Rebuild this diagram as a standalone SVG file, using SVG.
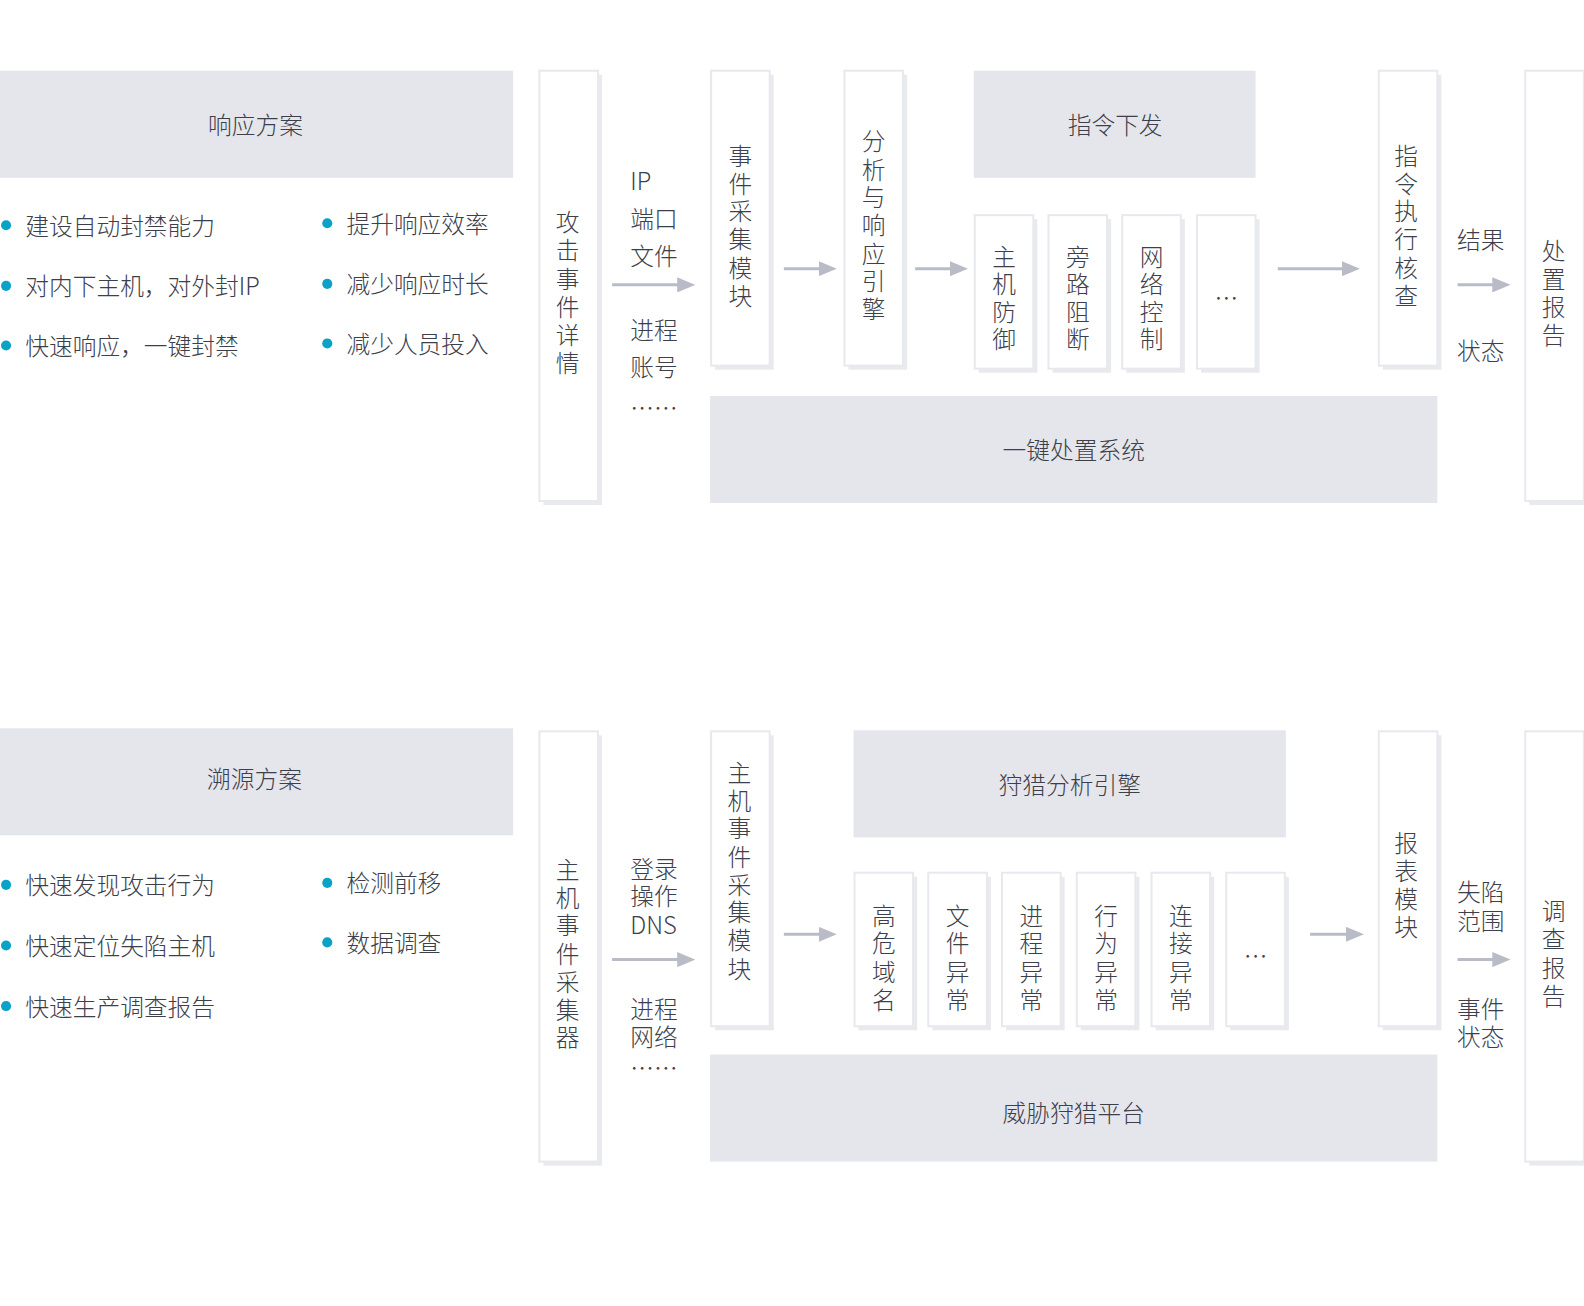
<svg xmlns="http://www.w3.org/2000/svg" width="1584" height="1306" viewBox="0 0 1584 1306">
<style>
text{font-family:"Noto Sans CJK SC","Noto Sans",sans-serif;font-size:23.5px;font-weight:300;fill:#3d404a;dominant-baseline:central}
.c{text-anchor:middle}
.hd{fill:#e5e6eb}
.bx{fill:#fff;stroke:#e8e9ee;stroke-width:2}
.sh{fill:#e9eaee}
.dot{fill:#0aa3c7}
.ar{stroke:#b9bcc7;stroke-width:3;fill:none;marker-end:url(#m)}
</style>
<defs>
<marker id="m" viewBox="0 0 10 10" refX="2" refY="5" markerWidth="6" markerHeight="5" markerUnits="strokeWidth" orient="auto" preserveAspectRatio="none"><path d="M0 0L10 5L0 10z" fill="#b9bcc7"/></marker>
</defs>
<rect width="1584" height="1306" fill="#fff"/>
<g transform="scale(1.0101)">
<g id="sec1">
<g id="h1"><rect x="0" y="70" width="508" height="106" class="hd"/><text x="253" y="122" class="c">响应方案</text></g>
<g id="b1">
<circle cx="6" cy="223" r="5" class="dot"/><text x="25" y="222">建设自动封禁能力</text>
<circle cx="6" cy="283" r="5" class="dot"/><text x="25" y="282">对内下主机，对外封IP</text>
<circle cx="6" cy="342" r="5" class="dot"/><text x="25" y="341">快速响应，一键封禁</text>
<circle cx="324" cy="221" r="5" class="dot"/><text x="343" y="220">提升响应效率</text>
<circle cx="324" cy="281" r="5" class="dot"/><text x="343" y="280">减少响应时长</text>
<circle cx="324" cy="340" r="5" class="dot"/><text x="343" y="339">减少人员投入</text>
</g>
<g id="n1"><rect x="538" y="74" width="58" height="426" class="sh"/><rect x="534" y="70" width="58" height="426" class="bx"/>
<text class="c" x="562"><tspan x="562" y="218">攻</tspan><tspan x="562" y="246">击</tspan><tspan x="562" y="274">事</tspan><tspan x="562" y="302">件</tspan><tspan x="562" y="330">详</tspan><tspan x="562" y="357">情</tspan></text></g>
<g id="l1"><text x="624" y="178">IP</text><text x="624" y="215">端口</text><text x="624" y="252">文件</text><text x="624" y="325">进程</text><text x="624" y="362">账号</text><text x="624" y="402">……</text></g>
<g id="n2"><rect x="708" y="74" width="58" height="292" class="sh"/><rect x="704" y="70" width="58" height="292" class="bx"/>
<text class="c"><tspan x="733" y="152">事</tspan><tspan x="733" y="180">件</tspan><tspan x="733" y="207">采</tspan><tspan x="733" y="235">集</tspan><tspan x="733" y="263">模</tspan><tspan x="733" y="291">块</tspan></text></g>
<g id="n3"><rect x="840" y="74" width="58" height="292" class="sh"/><rect x="836" y="70" width="58" height="292" class="bx"/>
<text class="c"><tspan x="865" y="138">分</tspan><tspan x="865" y="166">析</tspan><tspan x="865" y="193">与</tspan><tspan x="865" y="221">响</tspan><tspan x="865" y="249">应</tspan><tspan x="865" y="276">引</tspan><tspan x="865" y="304">擎</tspan></text></g>
<g id="h2"><rect x="964" y="70" width="279" height="106" class="hd"/><text x="1104" y="122" class="c">指令下发</text></g>
<g id="s1"><rect x="969" y="217" width="58" height="152" class="sh"/><rect x="965" y="213" width="58" height="152" class="bx"/><text class="c"><tspan x="994" y="252">主</tspan><tspan x="994" y="279">机</tspan><tspan x="994" y="307">防</tspan><tspan x="994" y="334">御</tspan></text></g>
<g id="s2"><rect x="1042" y="217" width="58" height="152" class="sh"/><rect x="1038" y="213" width="58" height="152" class="bx"/><text class="c"><tspan x="1067" y="252">旁</tspan><tspan x="1067" y="279">路</tspan><tspan x="1067" y="307">阻</tspan><tspan x="1067" y="334">断</tspan></text></g>
<g id="s3"><rect x="1115" y="217" width="58" height="152" class="sh"/><rect x="1111" y="213" width="58" height="152" class="bx"/><text class="c"><tspan x="1140" y="252">网</tspan><tspan x="1140" y="279">络</tspan><tspan x="1140" y="307">控</tspan><tspan x="1140" y="334">制</tspan></text></g>
<g id="s4"><rect x="1189" y="217" width="58" height="152" class="sh"/><rect x="1185" y="213" width="58" height="152" class="bx"/><text class="c" x="1214" y="294">…</text></g>
<g id="n4"><rect x="1369" y="74" width="58" height="292" class="sh"/><rect x="1365" y="70" width="58" height="292" class="bx"/>
<text class="c"><tspan x="1392" y="152">指</tspan><tspan x="1392" y="180">令</tspan><tspan x="1392" y="207">执</tspan><tspan x="1392" y="235">行</tspan><tspan x="1392" y="263">核</tspan><tspan x="1392" y="291">查</tspan></text></g>
<g id="l2"><text class="c" x="1466" y="236">结果</text><text class="c" x="1466" y="346">状态</text></g>
<g id="n5"><rect x="1514" y="74" width="58" height="426" class="sh"/><rect x="1510" y="70" width="58" height="426" class="bx"/>
<text class="c"><tspan x="1538" y="247">处</tspan><tspan x="1538" y="274">置</tspan><tspan x="1538" y="302">报</tspan><tspan x="1538" y="330">告</tspan></text></g>
<g id="p1"><rect x="703" y="392" width="720" height="106" class="hd"/><text x="1063" y="444" class="c">一键处置系统</text></g>
</g>

<g id="sec2">
<g id="h3"><rect x="0" y="721" width="508" height="106" class="hd"/><text x="252" y="770" class="c">溯源方案</text></g>
<g id="b2">
<circle cx="6" cy="876" r="5" class="dot"/><text x="25" y="875">快速发现攻击行为</text>
<circle cx="6" cy="936" r="5" class="dot"/><text x="25" y="935">快速定位失陷主机</text>
<circle cx="6" cy="996" r="5" class="dot"/><text x="25" y="995">快速生产调查报告</text>
<circle cx="324" cy="874" r="5" class="dot"/><text x="343" y="873">检测前移</text>
<circle cx="324" cy="933" r="5" class="dot"/><text x="343" y="932">数据调查</text>
</g>
<g id="m1"><rect x="538" y="728" width="58" height="426" class="sh"/><rect x="534" y="724" width="58" height="426" class="bx"/>
<text class="c"><tspan x="562" y="859">主</tspan><tspan x="562" y="887">机</tspan><tspan x="562" y="914">事</tspan><tspan x="562" y="942">件</tspan><tspan x="562" y="970">采</tspan><tspan x="562" y="998">集</tspan><tspan x="562" y="1025">器</tspan></text></g>
<g id="l3"><text x="624" y="859">登录</text><text x="624" y="886">操作</text><text x="624" y="914">DNS</text><text x="624" y="997">进程</text><text x="624" y="1025">网络</text><text x="624" y="1056">……</text></g>
<g id="m2"><rect x="708" y="728" width="58" height="292" class="sh"/><rect x="704" y="724" width="58" height="292" class="bx"/>
<text class="c"><tspan x="732" y="763">主</tspan><tspan x="732" y="791">机</tspan><tspan x="732" y="818">事</tspan><tspan x="732" y="846">件</tspan><tspan x="732" y="874">采</tspan><tspan x="732" y="901">集</tspan><tspan x="732" y="929">模</tspan><tspan x="732" y="957">块</tspan></text></g>
<g id="h4"><rect x="845" y="723" width="428" height="106" class="hd"/><text x="1059" y="776" class="c">狩猎分析引擎</text></g>
<g id="t1"><rect x="850" y="868" width="58" height="152" class="sh"/><rect x="846" y="864" width="58" height="152" class="bx"/><text class="c"><tspan x="875" y="905">高</tspan><tspan x="875" y="932">危</tspan><tspan x="875" y="960">域</tspan><tspan x="875" y="988">名</tspan></text></g>
<g id="t2"><rect x="923" y="868" width="58" height="152" class="sh"/><rect x="919" y="864" width="58" height="152" class="bx"/><text class="c"><tspan x="948" y="905">文</tspan><tspan x="948" y="932">件</tspan><tspan x="948" y="960">异</tspan><tspan x="948" y="988">常</tspan></text></g>
<g id="t3"><rect x="996" y="868" width="58" height="152" class="sh"/><rect x="992" y="864" width="58" height="152" class="bx"/><text class="c"><tspan x="1021" y="905">进</tspan><tspan x="1021" y="932">程</tspan><tspan x="1021" y="960">异</tspan><tspan x="1021" y="988">常</tspan></text></g>
<g id="t4"><rect x="1070" y="868" width="58" height="152" class="sh"/><rect x="1066" y="864" width="58" height="152" class="bx"/><text class="c"><tspan x="1095" y="905">行</tspan><tspan x="1095" y="932">为</tspan><tspan x="1095" y="960">异</tspan><tspan x="1095" y="988">常</tspan></text></g>
<g id="t5"><rect x="1144" y="868" width="58" height="152" class="sh"/><rect x="1140" y="864" width="58" height="152" class="bx"/><text class="c"><tspan x="1169" y="905">连</tspan><tspan x="1169" y="932">接</tspan><tspan x="1169" y="960">异</tspan><tspan x="1169" y="988">常</tspan></text></g>
<g id="t6"><rect x="1218" y="868" width="58" height="152" class="sh"/><rect x="1214" y="864" width="58" height="152" class="bx"/><text class="c" x="1243" y="945">…</text></g>
<g id="m3"><rect x="1369" y="728" width="58" height="292" class="sh"/><rect x="1365" y="724" width="58" height="292" class="bx"/>
<text class="c"><tspan x="1392" y="833">报</tspan><tspan x="1392" y="860">表</tspan><tspan x="1392" y="888">模</tspan><tspan x="1392" y="916">块</tspan></text></g>
<g id="l4"><text class="c" x="1466" y="882">失陷</text><text class="c" x="1466" y="910">范围</text><text class="c" x="1466" y="997">事件</text><text class="c" x="1466" y="1025">状态</text></g>
<g id="m4"><rect x="1514" y="728" width="58" height="426" class="sh"/><rect x="1510" y="724" width="58" height="426" class="bx"/>
<text class="c"><tspan x="1538" y="900">调</tspan><tspan x="1538" y="928">查</tspan><tspan x="1538" y="956">报</tspan><tspan x="1538" y="984">告</tspan></text></g>
<g id="p2"><rect x="703" y="1044" width="720" height="106" class="hd"/><text x="1063" y="1100" class="c">威胁狩猎平台</text></g>
</g>

<g id="connectors">
<path class="ar" d="M606 282H674"/>
<path class="ar" d="M776 266H814"/>
<path class="ar" d="M906 266H944"/>
<path class="ar" d="M1265 266H1332"/>
<path class="ar" d="M1443 282H1481"/>
<path class="ar" d="M606 950H674"/>
<path class="ar" d="M776 925H814"/>
<path class="ar" d="M1297 925H1336"/>
<path class="ar" d="M1443 950H1481"/>
</g>
</g>
</svg>
